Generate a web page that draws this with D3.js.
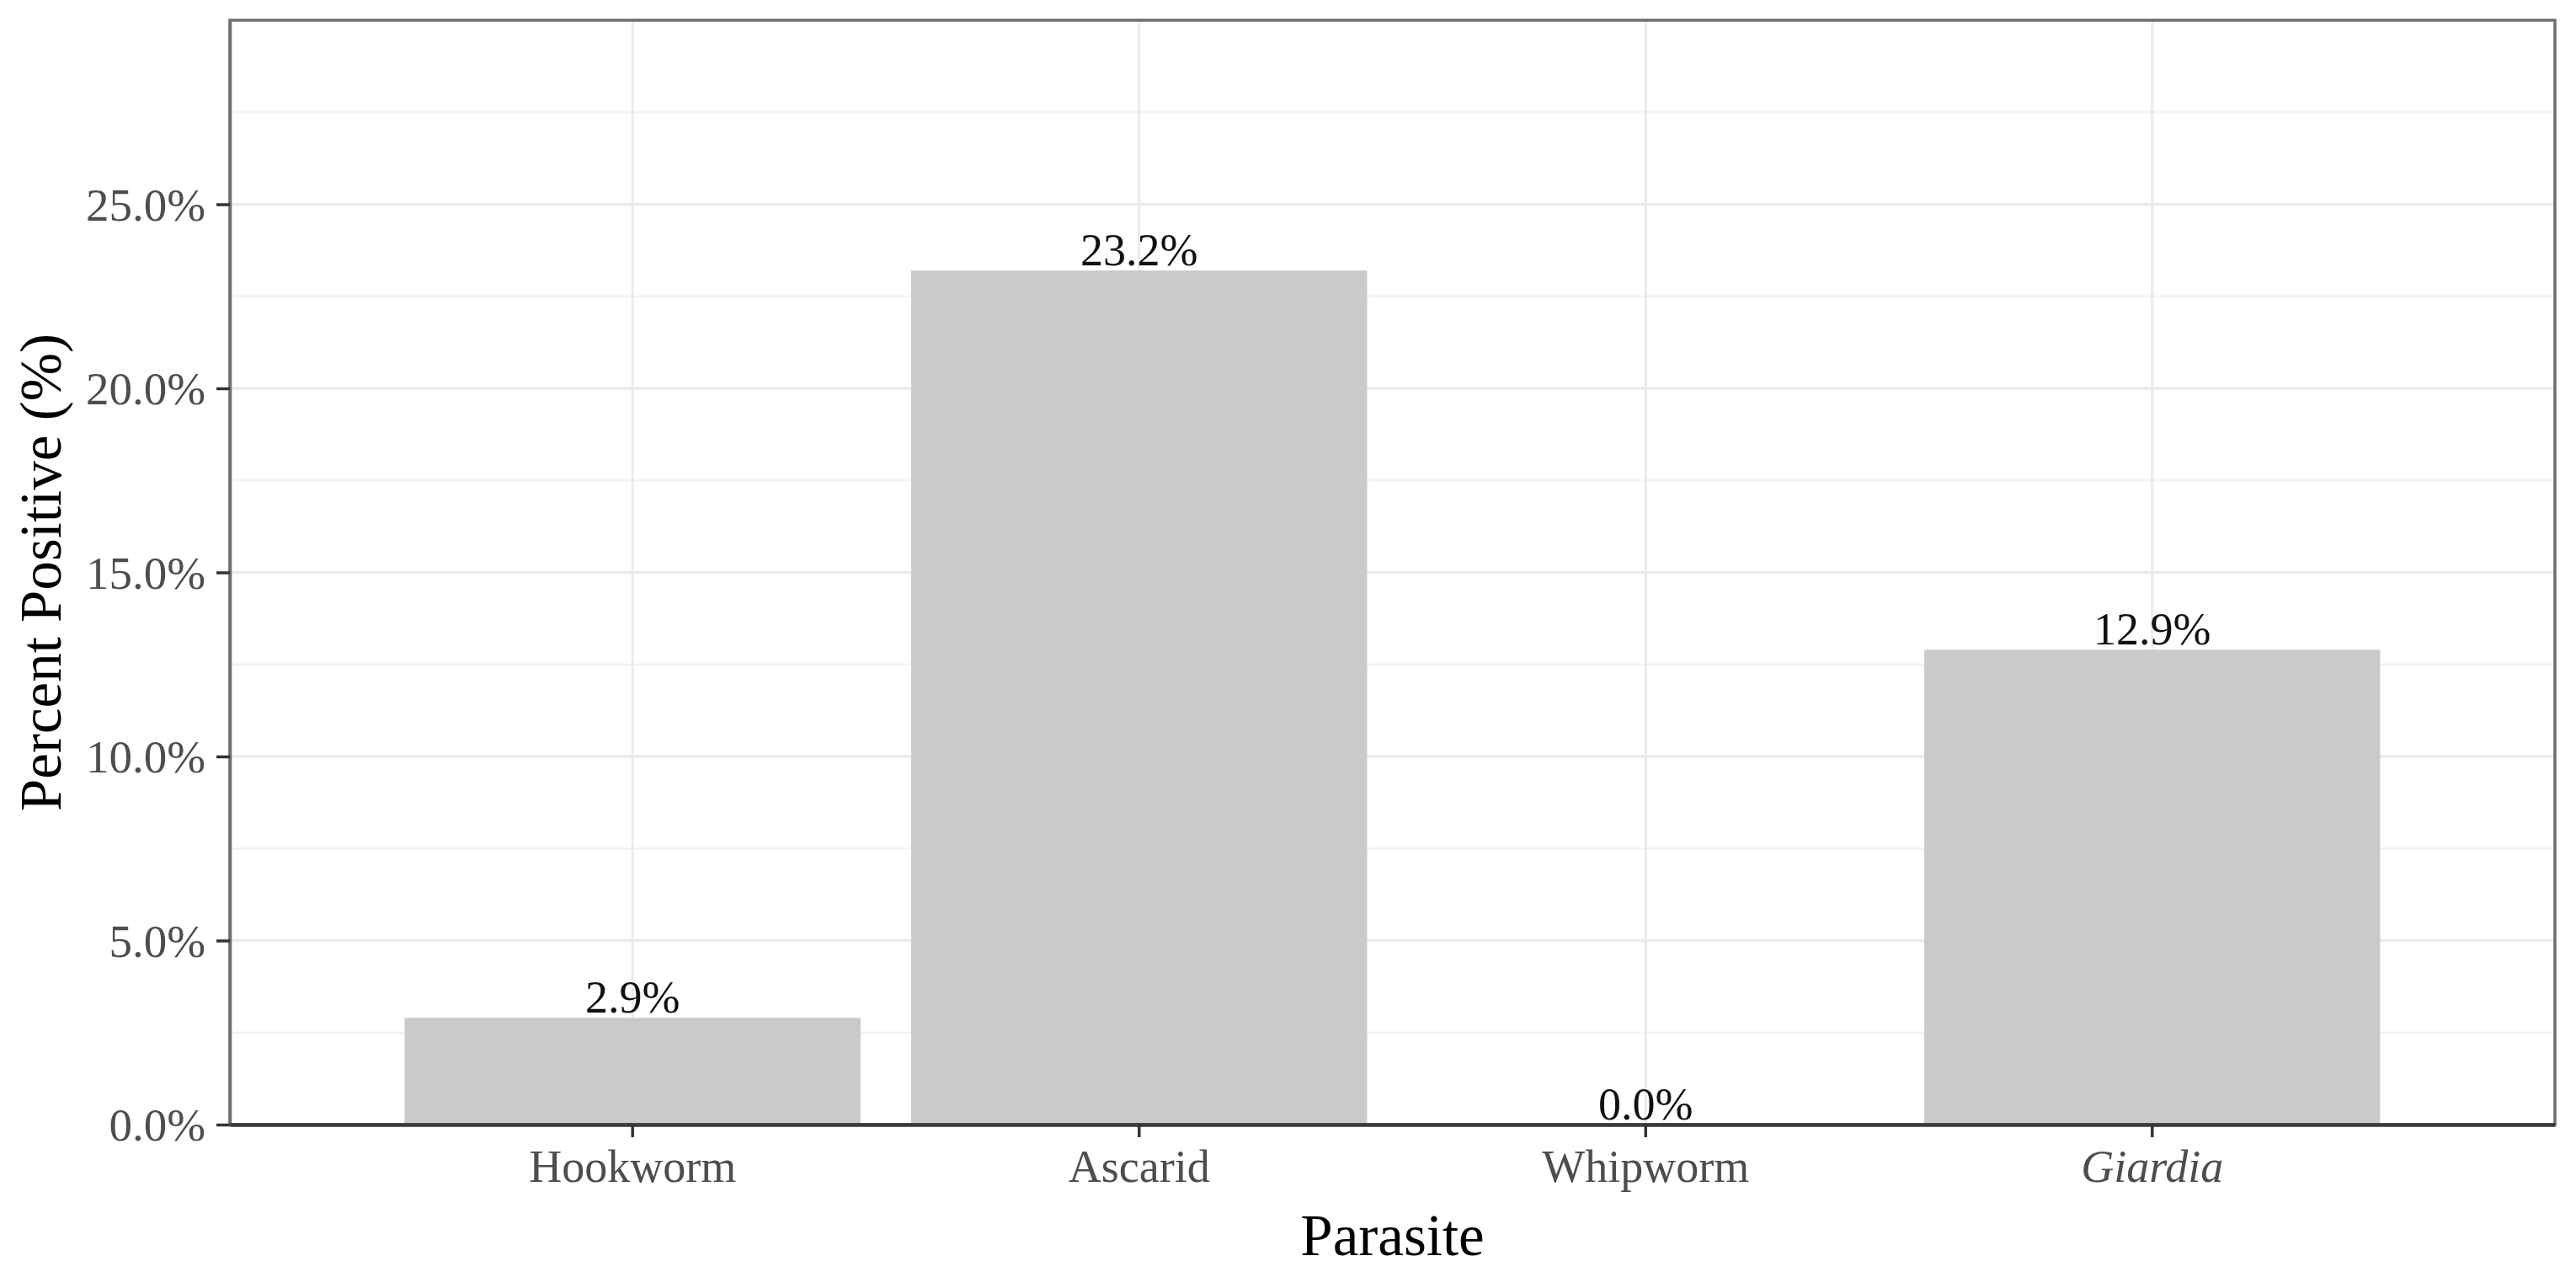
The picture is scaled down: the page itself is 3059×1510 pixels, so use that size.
<!DOCTYPE html>
<html>
<head>
<meta charset="utf-8">
<script src="https://cdn.jsdelivr.net/npm/d3@7"></script>
<style>
  html, body { margin: 0; padding: 0; background: #ffffff; }
  svg { display: block; }
</style>
</head>
<body>
<div id="chart"></div>
<script>
// ---- data ----
const categories = ["Hookworm", "Ascarid", "Whipworm", "Giardia"];
const italicCategories = ["Giardia"];
const values = [2.9, 23.2, 0.0, 12.9];          // percent positive
const yTicks = [0, 5, 10, 15, 20, 25];           // major breaks (%)
const yMinorTicks = [2.5, 7.5, 12.5, 17.5, 22.5, 27.5];
const yTickLabels = ["0.0%", "5.0%", "10.0%", "15.0%", "20.0%", "25.0%"];
const xTitle = "Parasite";
const yTitle = "Percent Positive (%)";

// ---- layout ----
const W = 3059, H = 1510;
const panel = { left: 273, right: 3034, top: 24, bottom: 1335 };
const font = "'Liberation Serif', 'Times New Roman', Times, serif";

const svg = d3.select("#chart").append("svg")
  .attr("width", W).attr("height", H)
  .attr("viewBox", `0 0 ${W} ${H}`);

const x = d3.scaleBand()
  .domain(categories)
  .range([panel.left, panel.right])
  .paddingInner(0.1)
  .paddingOuter(0.345);

const y = d3.scaleLinear()
  .domain([0, 30])
  .range([panel.bottom, panel.top]);

// panel background
svg.append("rect")
  .attr("x", panel.left).attr("y", panel.top)
  .attr("width", panel.right - panel.left)
  .attr("height", panel.bottom - panel.top)
  .attr("fill", "#ffffff");

// minor gridlines
svg.append("g").selectAll("line").data(yMinorTicks).join("line")
  .attr("x1", panel.left).attr("x2", panel.right)
  .attr("y1", d => y(d)).attr("y2", d => y(d))
  .attr("stroke", "#f3f3f3").attr("stroke-width", 2.5);

// major gridlines
svg.append("g").selectAll("line").data(yTicks).join("line")
  .attr("x1", panel.left).attr("x2", panel.right)
  .attr("y1", d => y(d)).attr("y2", d => y(d))
  .attr("stroke", "#ebebeb").attr("stroke-width", 3.5);

svg.append("g").selectAll("line").data(categories).join("line")
  .attr("x1", d => x(d) + x.bandwidth() / 2).attr("x2", d => x(d) + x.bandwidth() / 2)
  .attr("y1", panel.top).attr("y2", panel.bottom)
  .attr("stroke", "#ebebeb").attr("stroke-width", 3);

// bars
const data = categories.map((c, i) => ({ c, v: values[i] }));
svg.append("g").selectAll("rect").data(data).join("rect")
  .attr("x", d => x(d.c))
  .attr("width", x.bandwidth())
  .attr("y", d => y(d.v))
  .attr("height", d => y(0) - y(d.v))
  .attr("fill", "#c9cacc");

// bar labels
svg.append("g").selectAll("text").data(data).join("text")
  .attr("x", d => x(d.c) + x.bandwidth() / 2)
  .attr("y", d => y(d.v) - 6)
  .attr("text-anchor", "middle")
  .attr("font-family", font)
  .attr("font-size", 54)
  .attr("fill", "#111111")
  .text(d => d.v.toFixed(1) + "%");

// panel border
svg.append("rect")
  .attr("x", panel.left).attr("y", panel.top)
  .attr("width", panel.right - panel.left)
  .attr("height", panel.bottom - panel.top)
  .attr("fill", "none")
  .attr("stroke", "#6e6e6e").attr("stroke-width", 3.5);

// y axis
const yAxis = d3.axisLeft(y)
  .tickValues(yTicks)
  .tickSize(16)
  .tickSizeOuter(0)
  .tickPadding(13)
  .tickFormat((d, i) => yTickLabels[i]);
const gy = svg.append("g")
  .attr("transform", `translate(${panel.left},0)`)
  .call(yAxis);
gy.select(".domain").attr("stroke", "#6e6e6e").attr("stroke-width", 3.5);
gy.selectAll(".tick line").attr("stroke", "#333333").attr("stroke-width", 3.5);
gy.selectAll(".tick text")
  .attr("font-family", font).attr("font-size", 55)
  .attr("fill", "#4d4d4d").attr("dy", "0.34em");

// x axis
const xAxis = d3.axisBottom(x).tickSize(15).tickSizeOuter(0);
const gx = svg.append("g")
  .attr("transform", `translate(0,${panel.bottom})`)
  .call(xAxis);
gx.select(".domain").attr("stroke", "#3a3a3a").attr("stroke-width", 4.5);
gx.selectAll(".tick line").attr("stroke", "#333333").attr("stroke-width", 3.5);
gx.selectAll(".tick text")
  .attr("font-family", font).attr("font-size", 54)
  .attr("fill", "#4d4d4d")
  .attr("y", 68).attr("dy", 0)
  .attr("font-style", d => italicCategories.includes(d) ? "italic" : "normal");

// axis titles
svg.append("text")
  .attr("x", (panel.left + panel.right) / 2)
  .attr("y", 1490)
  .attr("text-anchor", "middle")
  .attr("font-family", font).attr("font-size", 69)
  .attr("fill", "#000000")
  .text(xTitle);

svg.append("text")
  .attr("transform", `translate(72,${(panel.top + panel.bottom) / 2}) rotate(-90)`)
  .attr("text-anchor", "middle")
  .attr("font-family", font).attr("font-size", 69)
  .attr("fill", "#000000")
  .text(yTitle);
</script>
</body>
</html>
